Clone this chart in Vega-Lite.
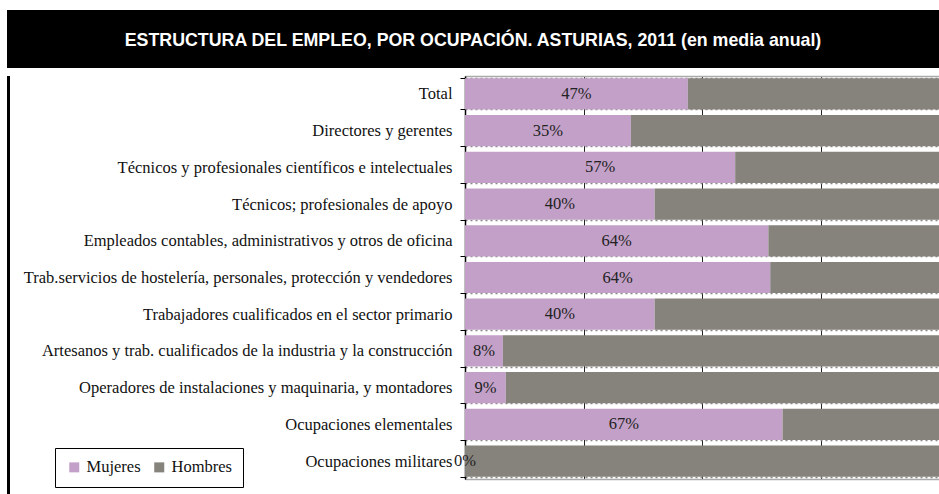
{
  "$schema": "https://vega.github.io/schema/vega-lite/v6.json",
  "background": "white",
  "padding": {"left": 7, "top": 10, "right": 0, "bottom": 0},
  "spacing": 0,
  "align": "none",
  "config": {"view": {"stroke": null}, "font": "Liberation Serif"},
  "vconcat": [
    {
      "width": 932,
      "height": 58,
      "view": {"fill": "black", "stroke": null},
      "data": {"values": [{"titulo": "ESTRUCTURA DEL EMPLEO, POR OCUPACIÓN. ASTURIAS, 2011 (en media anual)"}]},
      "mark": {"type": "text", "font": "Liberation Sans", "fontWeight": "bold", "fontSize": 17.8, "color": "white", "baseline": "middle", "dy": 2},
      "encoding": {"text": {"field": "titulo"}}
    },
    {
      "spacing": 0,
      "align": "none",
      "hconcat": [
        {
          "width": 3,
          "height": 430,
          "view": {"fill": "black", "stroke": null},
          "data": {"values": [{"borde": "izquierdo"}]},
          "mark": {"type": "rect", "color": "black"},
          "encoding": {}
        },
        {
          "width": 474,
          "height": 403,
          "data": {"values": [
            {"ocupacion": "Total", "sexo": "Mujeres", "valor": 0.47},
            {"ocupacion": "Total", "sexo": "Hombres", "valor": 0.53},
            {"ocupacion": "Directores y gerentes", "sexo": "Mujeres", "valor": 0.35},
            {"ocupacion": "Directores y gerentes", "sexo": "Hombres", "valor": 0.65},
            {"ocupacion": "Técnicos y profesionales científicos e intelectuales", "sexo": "Mujeres", "valor": 0.57},
            {"ocupacion": "Técnicos y profesionales científicos e intelectuales", "sexo": "Hombres", "valor": 0.43},
            {"ocupacion": "Técnicos; profesionales de apoyo", "sexo": "Mujeres", "valor": 0.40},
            {"ocupacion": "Técnicos; profesionales de apoyo", "sexo": "Hombres", "valor": 0.60},
            {"ocupacion": "Empleados contables, administrativos y otros de oficina", "sexo": "Mujeres", "valor": 0.64},
            {"ocupacion": "Empleados contables, administrativos y otros de oficina", "sexo": "Hombres", "valor": 0.36},
            {"ocupacion": "Trab.servicios de hostelería, personales, protección y vendedores", "sexo": "Mujeres", "valor": 0.644},
            {"ocupacion": "Trab.servicios de hostelería, personales, protección y vendedores", "sexo": "Hombres", "valor": 0.356},
            {"ocupacion": "Trabajadores cualificados en el sector primario", "sexo": "Mujeres", "valor": 0.40},
            {"ocupacion": "Trabajadores cualificados en el sector primario", "sexo": "Hombres", "valor": 0.60},
            {"ocupacion": "Artesanos y trab. cualificados de la industria y la construcción", "sexo": "Mujeres", "valor": 0.08},
            {"ocupacion": "Artesanos y trab. cualificados de la industria y la construcción", "sexo": "Hombres", "valor": 0.92},
            {"ocupacion": "Operadores de instalaciones y maquinaria, y montadores", "sexo": "Mujeres", "valor": 0.086},
            {"ocupacion": "Operadores de instalaciones y maquinaria, y montadores", "sexo": "Hombres", "valor": 0.914},
            {"ocupacion": "Ocupaciones elementales", "sexo": "Mujeres", "valor": 0.67},
            {"ocupacion": "Ocupaciones elementales", "sexo": "Hombres", "valor": 0.33},
            {"ocupacion": "Ocupaciones militares", "sexo": "Mujeres", "valor": 0.0},
            {"ocupacion": "Ocupaciones militares", "sexo": "Hombres", "valor": 1.0}
          ]},
          "resolve": {"scale": {"x": "independent"}, "axis": {"x": "independent"}},
          "layer": [
            {
              "mark": {"type": "bar"},
              "encoding": {
                "y": {
                  "field": "ocupacion", "type": "nominal", "sort": null, "title": null,
                  "scale": {"paddingInner": 0.15, "paddingOuter": 0.06},
                  "axis": {
                    "labelFont": "Liberation Serif", "labelFontSize": 16.5, "labelColor": "#111",
                    "labelLimit": 600, "labelPadding": 8,
                    "minExtent": 455, "maxExtent": 455,
                    "tickBand": "extent", "tickSize": 5, "tickColor": "black", "tickWidth": 1,
                    "domainColor": "black", "domainWidth": 1.5,
                    "grid": true, "gridColor": "#888", "gridDash": [2, 3], "gridWidth": 1.5
                  }
                },
                "x": {
                  "field": "valor", "type": "quantitative", "stack": "zero",
                  "scale": {"domain": [0, 1], "nice": false},
                  "axis": {
                    "orient": "top", "title": null, "labels": false, "ticks": false,
                    "values": [0, 0.25, 0.5, 0.75, 1],
                    "minExtent": 7, "maxExtent": 7,
                    "grid": true, "gridColor": "#222", "gridWidth": 1,
                    "domainColor": "#aaa", "domainWidth": 1.5
                  }
                },
                "color": {
                  "field": "sexo", "type": "nominal",
                  "scale": {"domain": ["Mujeres", "Hombres"], "range": ["#C3A0C8", "#86827C"]},
                  "legend": {
                    "title": null, "orient": "none", "legendX": 48, "legendY": 438,
                    "direction": "horizontal", "symbolType": "square", "symbolSize": 100,
                    "symbolStrokeWidth": 0, "labelOffset": 4,
                    "labelFont": "Liberation Serif", "labelFontSize": 16.5, "labelColor": "#111",
                    "columnPadding": 10, "padding": 11, "strokeColor": "black", "fillColor": "white"
                  }
                },
                "order": {"field": "sexo", "sort": "descending"}
              }
            },
            {
              "transform": [{"filter": "datum.sexo === 'Mujeres'"}],
              "mark": {"type": "text", "font": "Liberation Serif", "fontSize": 16.5, "color": "#222", "align": "center", "baseline": "middle"},
              "encoding": {
                "y": {"field": "ocupacion", "type": "nominal", "sort": null},
                "x": {
                  "field": "valor", "type": "quantitative",
                  "scale": {"domain": [0, 2], "nice": false},
                  "axis": {"orient": "bottom", "title": null, "labels": false, "ticks": false, "grid": false, "domainColor": "#aaa", "domainWidth": 1.5}
                },
                "text": {"field": "valor", "type": "quantitative", "format": ".0%"}
              }
            }
          ]
        }
      ]
    }
  ]
}
